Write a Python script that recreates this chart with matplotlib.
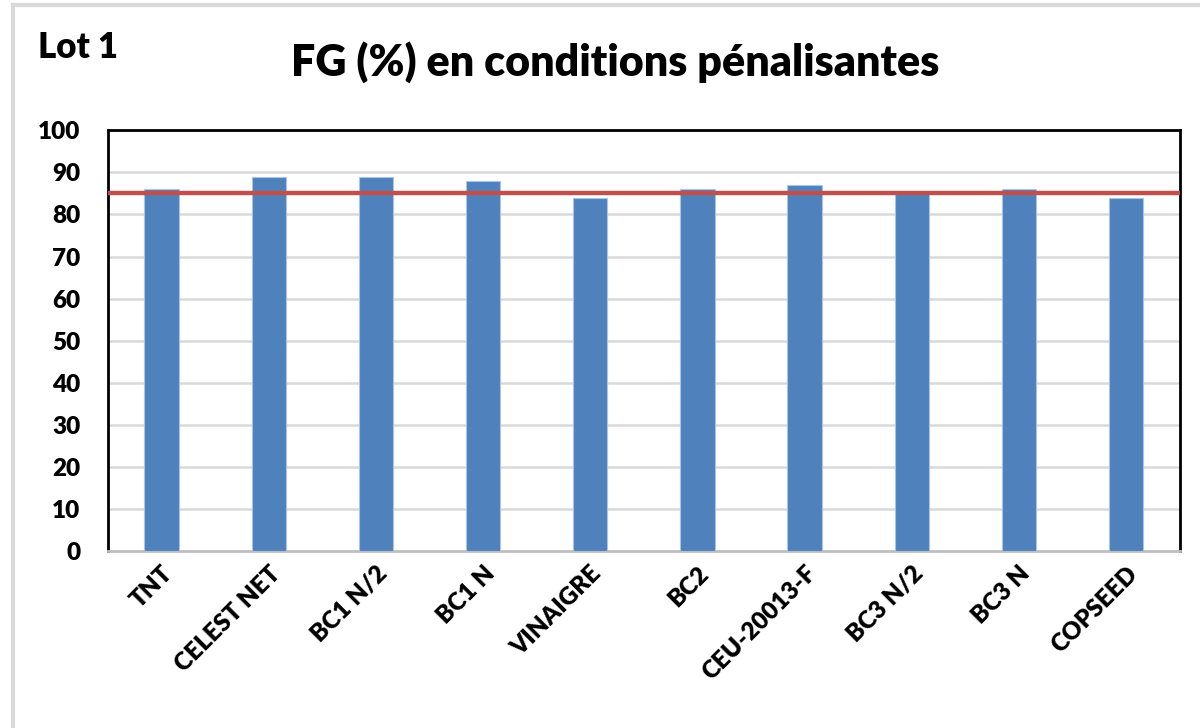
import matplotlib.pyplot as plt
from matplotlib.lines import Line2D

categories = ["TNT", "CELEST NET", "BC1 N/2", "BC1 N", "VINAIGRE", "BC2",
              "CEU-20013-F", "BC3 N/2", "BC3 N", "COPSEED"]
fg_values = [86, 89, 89, 88, 84, 86, 87, 85, 86, 84]
threshold = 85
y_ticks = list(range(0, 101, 10))

plt.rcParams["font.family"] = ["Lato", "DejaVu Sans"]
plt.rcParams["font.weight"] = "bold"

fig = plt.figure(figsize=(12, 7.28), dpi=100)
ax = fig.add_axes([0.09, 0.243, 0.893, 0.578])

x = range(len(categories))
ax.bar(x, fg_values, width=0.32, color="#4f81bd", edgecolor="#a9c4e6",
       linewidth=0.8, zorder=3)
ax.axhline(threshold, color="#c0504d", linewidth=3.2, zorder=4)

ax.set_xlim(-0.5, len(categories) - 0.5)
ax.set_ylim(0, 100)
ax.set_yticks(y_ticks)
ax.yaxis.grid(True, color="#d9d9d9", linewidth=1.8, zorder=0)
ax.set_axisbelow(True)
ax.tick_params(axis="y", length=0, labelsize=17.5, pad=20)
ax.tick_params(axis="x", length=0, labelsize=17.5, pad=8)
ax.set_xticks(list(x))
ax.set_xticklabels(categories, rotation=45, ha="right", rotation_mode="anchor")
for lbl in ax.get_xticklabels() + ax.get_yticklabels():
    lbl.set_fontweight("heavy")

for side in ["left", "top", "right"]:
    ax.spines[side].set_color("black")
    ax.spines[side].set_linewidth(2)
ax.spines["bottom"].set_color("#bfbfbf")
ax.spines["bottom"].set_linewidth(2)

fig.text(0.513, 0.915, "FG (%) en conditions pénalisantes", ha="center",
         va="center", fontsize=31, fontweight="heavy")
fig.text(0.032, 0.935, "Lot 1", ha="left", va="center", fontsize=25,
         fontweight="heavy")

# light grey chart border (only top and left edges visible)
fig.add_artist(Line2D([0.011, 0.011], [0, 0.993], color="#d9d9d9",
                      linewidth=3, transform=fig.transFigure))
fig.add_artist(Line2D([0.011, 1], [0.993, 0.993], color="#d9d9d9",
                      linewidth=3, transform=fig.transFigure))

fig.savefig("out.png", dpi=100)
